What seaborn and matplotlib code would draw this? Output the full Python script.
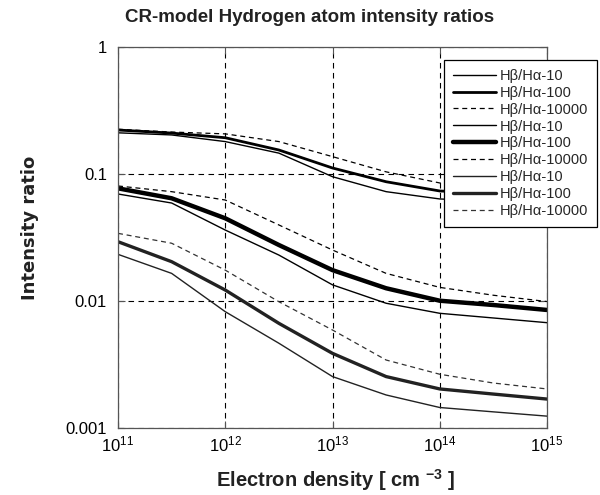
import matplotlib
matplotlib.use("Agg")
import matplotlib.pyplot as plt
import pandas as pd
import seaborn as sns

# electron density grid (cm^-3), half-decade steps
density = [1e11, 10**11.5, 1e12, 10**12.5, 1e13, 10**13.5, 1e14, 10**14.5, 1e15]

# top group
top_10 = [0.211, 0.203, 0.180, 0.146, 0.0952, 0.0726, 0.0636, 0.061, 0.059]
top_100 = [0.222, 0.210, 0.193, 0.1545, 0.1115, 0.0869, 0.0735, 0.0705, 0.068]
top_10000 = [0.225, 0.214, 0.207, 0.180, 0.137, 0.104, 0.085, 0.081, 0.078]

# middle group
mid_10 = [0.0696, 0.0591, 0.0362, 0.0230, 0.0134, 0.0096, 0.0080, 0.00735, 0.00675]
mid_100 = [0.0771, 0.0644, 0.0448, 0.0276, 0.0175, 0.0126, 0.01005, 0.0093, 0.0085]
mid_10000 = [0.0805, 0.0726, 0.0624, 0.0397, 0.0252, 0.0165, 0.0128, 0.0111, 0.0099]

# bottom group
bot_10 = [0.0233, 0.0165, 0.00824, 0.00465, 0.00254, 0.00182, 0.00145, 0.00134, 0.00124]
bot_100 = [0.0293, 0.0204, 0.0122, 0.00667, 0.00387, 0.00254, 0.00203, 0.00185, 0.00169]
bot_10000 = [0.0341, 0.0285, 0.0175, 0.00987, 0.00591, 0.00343, 0.00265, 0.00226, 0.00203]

labels = ["H\u03b2/H\u03b1-10", "H\u03b2/H\u03b1-100", "H\u03b2/H\u03b1-10000"] * 3
series = [top_10, top_100, top_10000, mid_10, mid_100, mid_10000, bot_10, bot_100, bot_10000]
# (linewidth, linestyle, colour) per series
DASH = (0, (4, 3))
styles = [
    (1.0, "-", "black"), (2.0, "-", "black"), (0.9, DASH, "black"),
    (1.0, "-", "black"), (3.2, "-", "black"), (0.9, DASH, "black"),
    (1.0, "-", "#222222"), (2.4, "-", "#222222"), (0.9, DASH, "#333333"),
]

sns.set_style("ticks")
plt.rcParams["font.family"] = ["Liberation Sans", "DejaVu Sans"]

fig = plt.figure(figsize=(6.0, 4.95), dpi=100)
ax = fig.add_axes([118 / 600, 1 - 428 / 495, (547 - 118) / 600, (428 - 47) / 495])

handles = []
for vals, lab, (lw, ls, col) in zip(series, labels, styles):
    df = pd.DataFrame({"ne": density, "ratio": vals})
    sns.lineplot(data=df, x="ne", y="ratio", ax=ax, color=col, linewidth=lw,
                 linestyle=ls, label=lab, legend=False)
    handles.append(ax.lines[-1])

ax.set_xscale("log")
ax.set_yscale("log")
ax.set_xlim(1e11, 1e15)
ax.set_ylim(1e-3, 1)
ax.set_xticks([1e11, 1e12, 1e13, 1e14, 1e15])
ax.set_xticklabels([r"$\mathregular{10^{11}}$", r"$\mathregular{10^{12}}$",
                    r"$\mathregular{10^{13}}$", r"$\mathregular{10^{14}}$",
                    r"$\mathregular{10^{15}}$"])
ax.set_yticks([1e-3, 1e-2, 1e-1, 1])
ax.set_yticklabels(["0.001", "0.01", "0.1", "1"])
ax.minorticks_off()
ax.tick_params(axis="both", direction="in", length=5, width=0.8, colors="#555555",
               labelcolor="black", labelsize=12, top=True, right=True)
ax.tick_params(axis="y", pad=8)
ax.tick_params(axis="x", pad=5)
ax.grid(True, which="major", color="black", linestyle=(0, (5, 4)), linewidth=0.8)
for sp in ax.spines.values():
    sp.set_visible(True)
    sp.set_color("#555555")
    sp.set_linewidth(0.9)

ax.set_xlabel("")
ax.set_ylabel("")
fig.text(310 / 600, 1 - 18 / 495, "CR-model Hydrogen atom intensity ratios",
         ha="center", va="center", fontsize=13.5, fontweight="bold", color="#222222")
fig.text(336 / 600, 1 - 480 / 495, r"Electron density [ cm $\mathregular{^{-3}}$ ]",
         ha="center", va="center", fontsize=14.5, fontweight="bold", color="#222222")
fig.text(30 / 600, 1 - 228 / 495, "Intensity ratio", rotation=90,
         ha="center", va="center", fontsize=13, fontweight="bold", color="#222222",
         family=["DejaVu Sans"])

leg = ax.legend(handles=handles, labels=labels, loc="upper right",
                bbox_to_anchor=(597 / 600, 1 - 60 / 495), bbox_transform=fig.transFigure,
                borderaxespad=0, fancybox=False, framealpha=1, edgecolor="black",
                fontsize=10.5, handlelength=2.9, labelspacing=0.2, handletextpad=0.3,
                borderpad=0.6)
leg.get_frame().set_linewidth(0.9)

fig.savefig("out.png", dpi=100)
